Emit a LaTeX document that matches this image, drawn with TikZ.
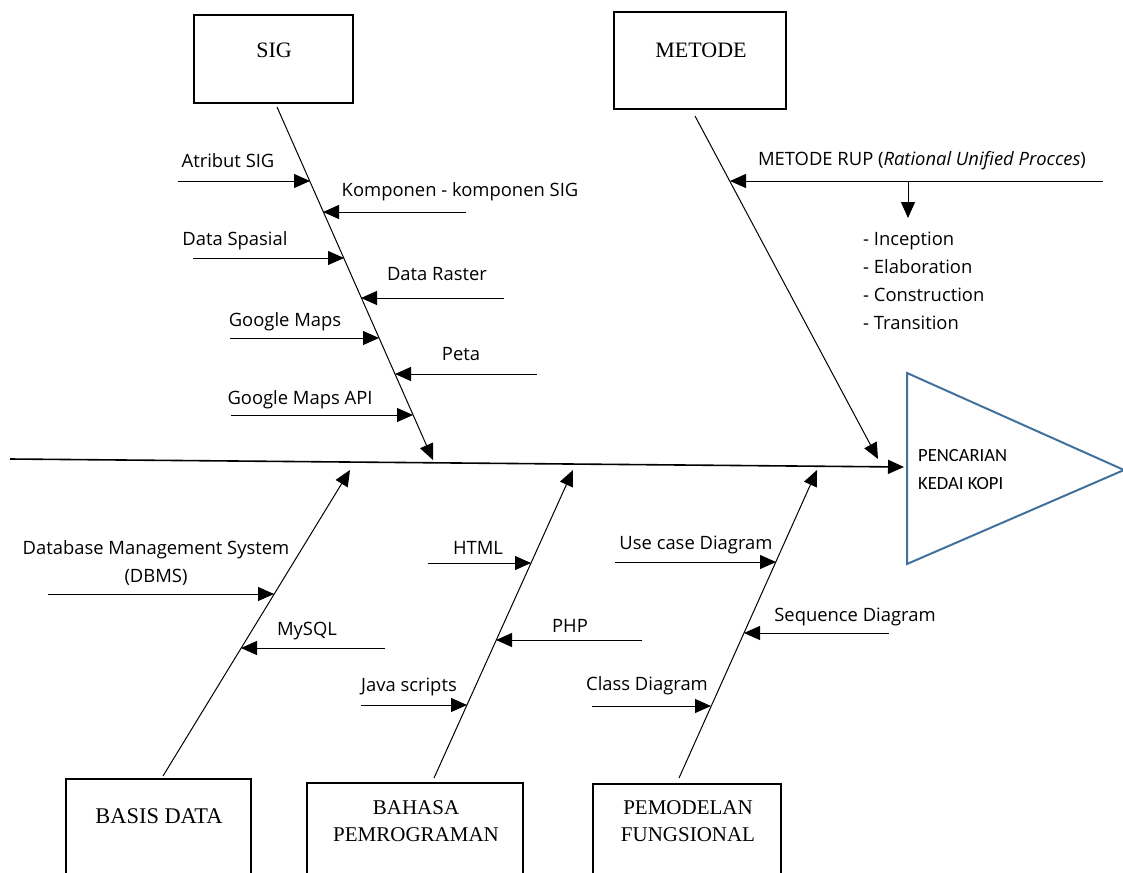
\documentclass[tikz,border=0pt]{standalone}
\usepackage{fontspec}
\setmainfont{Liberation Serif}
\newfontfamily\lblfont{Open Sans}
\newfontfamily\calfont{Carlito}
\usetikzlibrary{arrows.meta}
\definecolor{headblue}{RGB}{65,113,156}

\begin{document}
\begin{tikzpicture}[x=1pt,y=-1pt,
        causebox/.style={draw, line width=1.6pt},
        boxtext/.style={font=\fontsize{22}{27}\selectfont, align=center, inner sep=0pt},
        lbl/.style={font=\lblfont\fontsize{18.4}{28}\selectfont, inner sep=0pt},
        bone/.style={line width=1pt, -{Triangle[length=16pt,width=14pt]}},
        spine/.style={line width=1.6pt, -{Triangle[length=16pt,width=14pt]}}]
    \clip (0,0) rectangle (1123,872);

    % kotak penyebab
    \draw[causebox] (194,15) rectangle (353,103);
    \node[boxtext] (sig) at (274,50) {SIG};
    \draw[causebox] (614,12) rectangle (786,109);
    \node[boxtext] (metode) at (701,50) {METODE};
    \draw[causebox] (66,779) rectangle (251,890);
    \node[boxtext, font=\fontsize{22.4}{27}\selectfont] (basis) at (159,816) {BASIS DATA};
    \draw[causebox] (307,783) rectangle (523,890);
    \node[boxtext, font=\fontsize{21}{27}\selectfont] (bahasa) at (416,821) {BAHASA\\PEMROGRAMAN};
    \draw[causebox] (593,784) rectangle (781,890);
    \node[boxtext, font=\fontsize{21}{27}\selectfont] (model) at (688,821) {PEMODELAN\\FUNGSIONAL};

    % kepala ikan
    \draw[headblue, line width=2pt] (907,373) -- (1124,470) -- (907,564) -- cycle;
    \node[font=\calfont\fontsize{18.6}{28}\selectfont, align=left, anchor=west, inner sep=0pt] (effect) at (918,470) {PENCARIAN\\KEDAI KOPI};

    % tulang utama
    \coordinate (tail) at (10,459);
    \coordinate (head) at (904,467);
    \draw[spine] (tail) -- (head);

    % tulang penyebab
    \coordinate (sig-a) at (277,107);   \coordinate (sig-b) at (433,460);
    \coordinate (met-a) at (695,116);   \coordinate (met-b) at (878,459);
    \coordinate (bas-a) at (163,776);   \coordinate (bas-b) at (350,470);
    \coordinate (bah-a) at (434,778);   \coordinate (bah-b) at (573,470);
    \coordinate (mod-a) at (679,778);   \coordinate (mod-b) at (817,470);
    \foreach \b in {sig,met,bas,bah,mod}
        \draw[bone] (\b-a) -- (\b-b);

    % sub penyebab
    \coordinate (atr-s) at (178,181);   \coordinate (atr-t) at (310,181);
    \coordinate (kom-s) at (466,212);   \coordinate (kom-t) at (323,212);
    \coordinate (spa-s) at (193,258);   \coordinate (spa-t) at (344,258);
    \coordinate (ras-s) at (504,298);   \coordinate (ras-t) at (361,298);
    \coordinate (gmp-s) at (230,338);   \coordinate (gmp-t) at (379,338);
    \coordinate (pta-s) at (537,374);   \coordinate (pta-t) at (395,374);
    \coordinate (api-s) at (231,415);   \coordinate (api-t) at (413,415);
    \coordinate (rup-s) at (1103,181);  \coordinate (rup-t) at (730,181);
    \coordinate (dbm-s) at (48,594);    \coordinate (dbm-t) at (274,594);
    \coordinate (sql-s) at (385,648);   \coordinate (sql-t) at (241,648);
    \coordinate (htm-s) at (428,563);   \coordinate (htm-t) at (531,563);
    \coordinate (php-s) at (642,640);   \coordinate (php-t) at (496,640);
    \coordinate (jav-s) at (361,705);   \coordinate (jav-t) at (467,705);
    \coordinate (use-s) at (615,562);   \coordinate (use-t) at (776,562);
    \coordinate (seq-s) at (889,633);   \coordinate (seq-t) at (744,633);
    \coordinate (cls-s) at (592,706);   \coordinate (cls-t) at (711,706);
    \foreach \s in {atr,kom,spa,ras,gmp,pta,api,rup,dbm,sql,htm,php,jav,use,seq,cls}
        \draw[bone] (\s-s) -- (\s-t);
    \coordinate (fase-s) at (908,181);  \coordinate (fase-t) at (908,218);
    \draw[bone] (fase-s) -- (fase-t);

    % label
    \node[lbl] (l-atr) at (228,161) {Atribut SIG};
    \node[lbl] (l-kom) at (460,192) {Komponen - komponen SIG};
    \node[lbl] (l-spa) at (235,241) {Data Spasial};
    \node[lbl] (l-ras) at (437,274) {Data Raster};
    \node[lbl] (l-gmp) at (285,322) {Google Maps};
    \node[lbl] (l-pta) at (461,354) {Peta};
    \node[lbl] (l-api) at (300,400) {Google Maps API};
    \node[lbl] (l-rup) at (922,161) {METODE RUP (\textit{Rational Unified Procces})};
    \node[lbl, align=left, anchor=west] (l-fase) at (863,281) {- Inception\\- Elaboration\\- Construction\\- Transition};
    \node[lbl, align=center] (l-dbm) at (156,563) {Database Management System\\(DBMS)};
    \node[lbl] (l-sql) at (307,631) {MySQL};
    \node[lbl] (l-htm) at (478,548) {HTML};
    \node[lbl] (l-php) at (570,626) {PHP};
    \node[lbl] (l-jav) at (409,687) {Java scripts};
    \node[lbl] (l-use) at (696,545) {Use case Diagram};
    \node[lbl] (l-seq) at (855,617) {Sequence Diagram};
    \node[lbl] (l-cls) at (647,686) {Class Diagram};
\end{tikzpicture}
\end{document}
